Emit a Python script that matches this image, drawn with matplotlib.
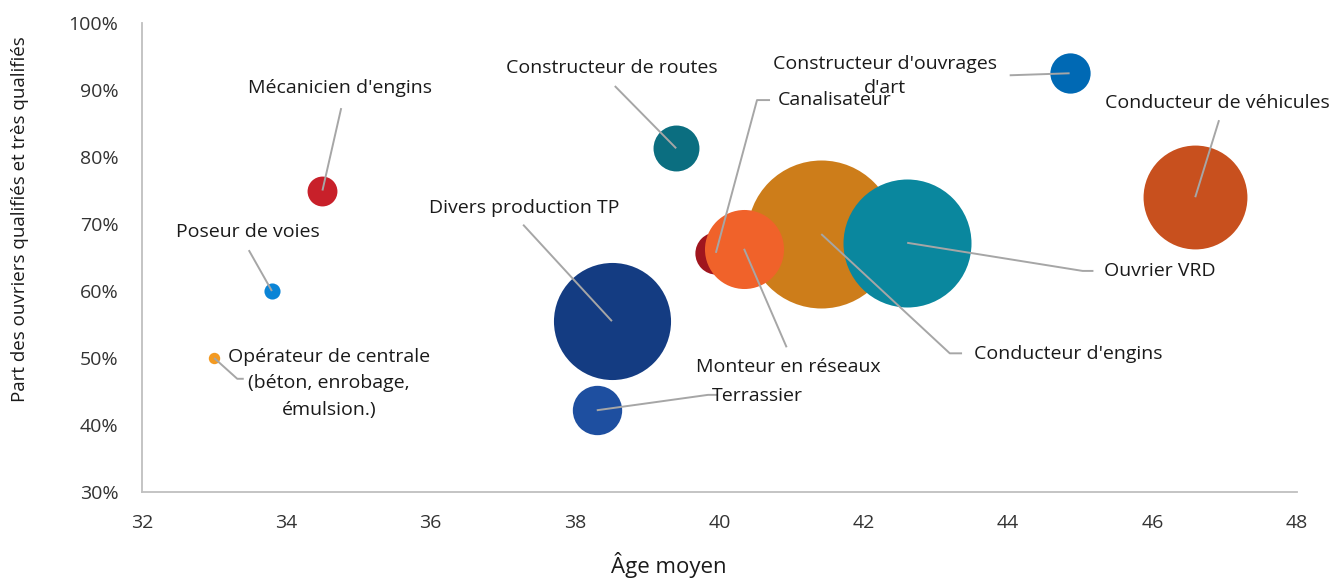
import matplotlib
matplotlib.use("Agg")
import matplotlib.pyplot as plt
from matplotlib.ticker import FuncFormatter

plt.rcParams['font.family'] = ['Open Sans', 'DejaVu Sans']

## Data
metiers = ["Opérateur de centrale\n(béton, enrobage,\némulsion.)", "Poseur de voies",
           "Mécanicien d'engins", "Constructeur de routes",
           "Constructeur d'ouvrages\nd'art", "Conducteur de véhicules",
           "Divers production TP", "Terrassier", "Canalisateur",
           "Conducteur d'engins", "Monteur en réseaux", "Ouvrier VRD"]
age_moyen = [33.0, 33.8, 34.5, 39.4, 44.85, 46.59, 38.51, 38.3, 39.95, 41.41, 40.34, 42.6]
part_qualifies = [50.0, 60.0, 75.0, 81.3, 92.5, 74.0, 55.5, 42.2, 65.7, 68.5, 66.3, 67.2]
effectif = [160, 320, 1100, 2600, 2000, 13300, 16900, 3000, 2200, 27000, 7700, 20200]

couleurs = ["#F39A22", "#0A84D6", "#C8202A", "#0B6E80", "#0069B4", "#C8501E",
            "#143C82", "#1E4FA0", "#A0161E", "#CD7D1A", "#F0622A", "#0A879E"]

# label centre (x, y) and leader polyline, in data units
label_pos = [(34.59, 46.2), (33.47, 68.8), (34.74, 90.3), (38.51, 93.3),
             (42.29, 92.1), (46.9, 88.1), (37.29, 72.4), (40.52, 44.3),
             (41.6, 88.5), (44.83, 50.6), (40.95, 48.7), (46.1, 63.0)]
interligne = [1.6, 1.3, 1.3, 1.3, 1.45, 1.3, 1.3, 1.3, 1.3, 1.3, 1.3, 1.3]
leaders = [[(33.32, 46.9), (33.41, 46.9)],
           [(33.48, 66.1)],
           [(34.76, 87.3)],
           [(38.55, 90.6)],
           [(44.02, 92.2)],
           [(46.92, 85.5)],
           [(37.28, 69.9)],
           [(39.84, 44.5), (39.98, 44.5)],
           [(40.52, 88.5), (40.70, 88.5)],
           [(43.19, 50.7), (43.36, 50.7)],
           [(40.93, 51.6)],
           [(45.03, 63.0), (45.18, 63.0)]]

## Figure
fig = plt.figure(figsize=(13.33, 5.8), dpi=100)
ax = fig.add_axes([0.1065, 0.1517, 0.8665, 0.8086])

# bubble area proportional to effectif, biggest ~74 px radius
s_max = (2 * 74 * 0.72) ** 2
scale = s_max / max(effectif)
for x, y, e, c in zip(age_moyen, part_qualifies, effectif, couleurs):
    ax.scatter([x], [y], s=e * scale, color=c, linewidths=0, zorder=2)

for x, y, lab, pos, ls, pts in zip(age_moyen, part_qualifies, metiers, label_pos,
                                   interligne, leaders):
    xs = [x] + [p[0] for p in pts]
    ys = [y] + [p[1] for p in pts]
    ax.plot(xs, ys, color="#A6A6A6", lw=1.4, zorder=3, solid_capstyle='butt')
    ax.text(pos[0], pos[1], lab, ha='center', va='center', fontsize=14,
            color="#1A1A1A", linespacing=ls, zorder=4)

ax.set_xlim(32, 48)
ax.set_ylim(30, 100)
ax.set_xticks(range(32, 49, 2))
ax.set_yticks(range(30, 101, 10))
ax.yaxis.set_major_formatter(FuncFormatter(lambda v, p: "%d%%" % v))
ax.tick_params(length=0, labelsize=14, colors="#333333")
ax.tick_params(axis='x', pad=16)
ax.tick_params(axis='y', pad=17)

for side in ['top', 'right']:
    ax.spines[side].set_visible(False)
for side in ['left', 'bottom']:
    ax.spines[side].set_color("#BFBFBF")
    ax.spines[side].set_linewidth(1.3)

ax.set_xlabel("Âge moyen", fontsize=16, color="#1A1A1A")
ax.set_ylabel("Part des ouvriers qualifiés et très qualifiés", fontsize=13.5,
              color="#1A1A1A")
ax.xaxis.set_label_coords(0.456, -0.128)
ax.yaxis.set_label_coords(-0.098, 0.582)

fig.savefig("out.png", dpi=100)
